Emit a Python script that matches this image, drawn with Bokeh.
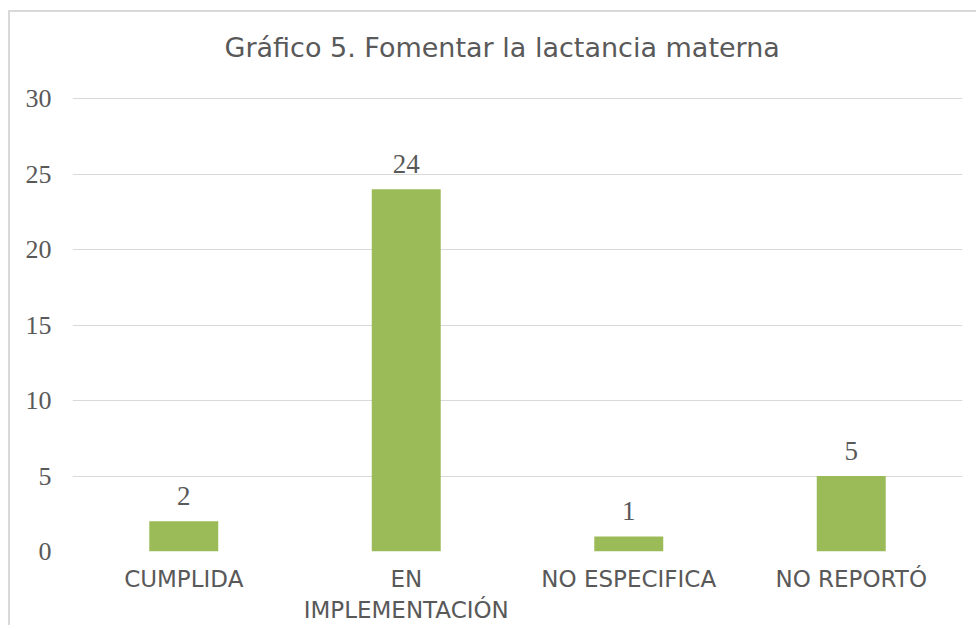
from bokeh.plotting import figure
from bokeh.models import ColumnDataSource, LabelSet, FixedTicker, Range1d, Title
from bokeh.embed import file_html
from bokeh.resources import INLINE

categories = ["CUMPLIDA", "EN\nIMPLEMENTACIÓN", "NO ESPECIFICA", "NO REPORTÓ"]
values = [2, 24, 1, 5]
labels = [str(v) for v in values]
y_ticks = [0, 5, 10, 15, 20, 25, 30]
title_text = "Gráfico 5. Fomentar la lactancia materna"

TEXT = "#595959"
GRID = "#d9d9d9"
BAR = "#9BBB59"

src = ColumnDataSource(dict(cat=categories, val=values, lab=labels))

p = figure(x_range=categories, y_range=Range1d(0, 30.07), width=968, height=615,
           output_backend="svg", toolbar_location=None,
           min_border_left=62, min_border_right=16, min_border_top=85, min_border_bottom=76)
p.styles = {"margin-left": "8px", "margin-top": "10px",
            "border-left": "2px solid #d9d9d9", "border-top": "2px solid #d9d9d9"}

p.title = Title(text=title_text, align="left", offset=152, vertical_align="top",
                text_font="DejaVu Sans", text_font_size="27px", text_font_style="normal",
                text_color=TEXT, standoff=0)
# spacer between the title and the plotting area
p.add_layout(Title(text=" ", text_font_size="1px", standoff=30), "above")

p.vbar(x="cat", top="val", width=0.31, source=src, fill_color=BAR, line_color=None)

p.add_layout(LabelSet(x="cat", y="val", text="lab", source=src, text_align="center",
                      text_baseline="alphabetic", y_offset=16, text_font="Liberation Serif",
                      text_font_size="27px", text_color=TEXT))

p.x_range.range_padding = 0
p.xgrid.grid_line_color = None
p.ygrid.grid_line_color = GRID
p.ygrid.grid_line_width = 1
p.outline_line_color = None
p.background_fill_color = "white"
p.border_fill_color = "white"

p.yaxis.ticker = FixedTicker(ticks=y_ticks)
p.yaxis.axis_line_color = None
p.yaxis.major_tick_line_color = None
p.yaxis.minor_tick_line_color = None
p.yaxis.major_label_standoff = 15
p.yaxis.major_label_text_font = "Liberation Serif"
p.yaxis.major_label_text_font_size = "26px"
p.yaxis.major_label_text_color = TEXT

p.xaxis.axis_line_color = None
p.xaxis.major_tick_line_color = None
p.xaxis.minor_tick_line_color = None
p.xaxis.major_label_standoff = 8
p.xaxis.major_label_text_font = "DejaVu Sans"
p.xaxis.major_label_text_font_size = "23px"
p.xaxis.major_label_text_color = TEXT

open("out.html", "w").write(file_html(p, INLINE))
